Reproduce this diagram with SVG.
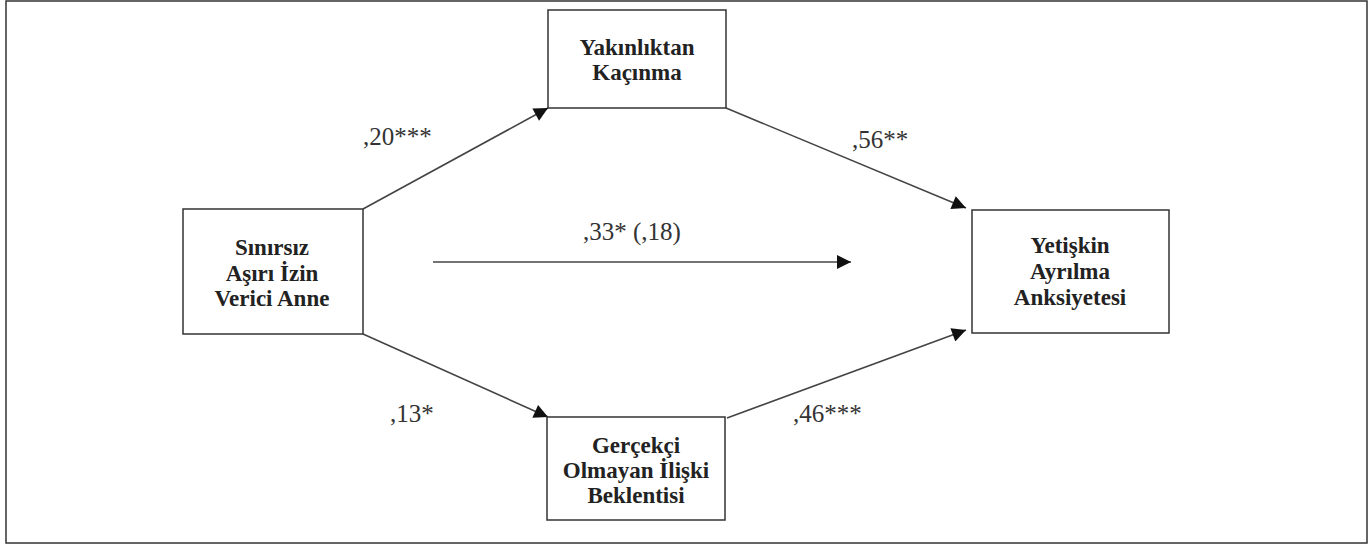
<svg xmlns="http://www.w3.org/2000/svg" width="1370" height="554" viewBox="0 0 1370 554">
<style>
.frame{fill:none;stroke:#333;stroke-width:1.5}
.box{fill:#fff;stroke:#333;stroke-width:1.5}
.lbl{font-family:"Liberation Serif",serif;font-weight:bold;font-size:23px;fill:#222;text-anchor:middle}
.coef{font-family:"Liberation Serif",serif;font-size:25px;fill:#333}
.edge{stroke:#444;stroke-width:1.6;fill:none;marker-end:url(#ah)}
</style>
<defs>
<marker id="ah" viewBox="0 0 10 10" refX="10" refY="5" markerWidth="18" markerHeight="14" markerUnits="userSpaceOnUse" orient="auto">
<path d="M0,0 L10,5 L0,10 Z" fill="#111"/>
</marker>
</defs>
<rect class="frame" x="6" y="1" width="1361" height="542"/>
<g id="connectors">
<line class="edge" x1="363" y1="209" x2="548" y2="108"/>
<line class="edge" x1="726" y1="108" x2="966" y2="208"/>
<line class="edge" x1="363" y1="334" x2="548" y2="417"/>
<line class="edge" x1="727" y1="418" x2="966" y2="330"/>
<line class="edge" x1="433" y1="262" x2="851" y2="262"/>
<text class="coef" x="363" y="145">,20***</text>
<text class="coef" x="852" y="148">,56**</text>
<text class="coef" x="390" y="422">,13*</text>
<text class="coef" x="793" y="422">,46***</text>
<text class="coef" x="632" y="240" text-anchor="middle">,33* (,18)</text>
</g>
<g id="node-yakinliktan">
<rect class="box" x="548" y="10" width="178" height="98"/>
<text class="lbl" x="637" y="55">Yakınlıktan</text>
<text class="lbl" x="637" y="80">Kaçınma</text>
</g>
<g id="node-sinirsiz">
<rect class="box" x="183" y="209" width="180" height="125"/>
<text class="lbl" x="272" y="255">Sınırsız</text>
<text class="lbl" x="272" y="281">Aşırı İzin</text>
<text class="lbl" x="272" y="306">Verici Anne</text>
</g>
<g id="node-yetiskin">
<rect class="box" x="972" y="210" width="197" height="123"/>
<text class="lbl" x="1070" y="253">Yetişkin</text>
<text class="lbl" x="1070" y="279">Ayrılma</text>
<text class="lbl" x="1070" y="305">Anksiyetesi</text>
</g>
<g id="node-gercekci">
<rect class="box" x="547" y="417" width="178" height="103"/>
<text class="lbl" x="636" y="453">Gerçekçi</text>
<text class="lbl" x="636" y="478">Olmayan İlişki</text>
<text class="lbl" x="636" y="503">Beklentisi</text>
</g>
</svg>
